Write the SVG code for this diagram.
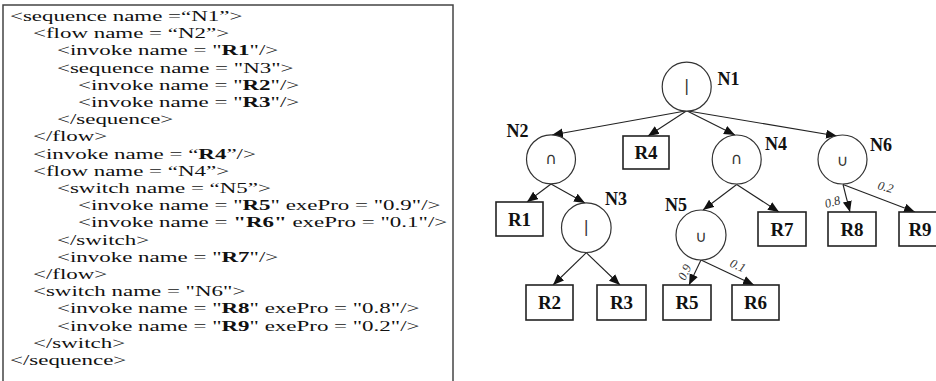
<svg xmlns="http://www.w3.org/2000/svg" width="936" height="381" viewBox="0 0 936 381">
<defs>
<style>
.code{font-family:"Liberation Serif","Times New Roman",serif;font-size:15px;fill:#111}
.b{font-weight:bold}
.node{fill:#fff;stroke:#333;stroke-width:1.2}
.box{fill:#fff;stroke:#222;stroke-width:1.6}
.bl{font-family:"Liberation Serif","Times New Roman",serif;font-weight:bold;font-size:19px;fill:#111;text-anchor:middle}
.nl{font-family:"Liberation Serif","Times New Roman",serif;font-weight:bold;font-size:18px;fill:#111}
.sym{font-family:"DejaVu Sans",sans-serif;font-size:16px;fill:#333;text-anchor:middle}
.pl{font-family:"Liberation Serif","Times New Roman",serif;font-style:italic;font-size:12.5px;fill:#333}
.edge{stroke:#222;stroke-width:1.1;fill:none;marker-end:url(#ah)}
</style>
<marker id="ah" markerUnits="userSpaceOnUse" markerWidth="12" markerHeight="10" refX="11" refY="4.5" orient="auto">
<path d="M0,0 L11,4.5 L0,9 Z" fill="#111"/>
</marker>
</defs>
<rect width="936" height="381" fill="#fff"/>

<g id="code-panel">
<rect x="3" y="5" width="450" height="390" fill="#fff" stroke="#444" stroke-width="1.5"/>
<g transform="scale(1.53 1)" class="code">
<text x="6.54" y="21">&lt;sequence name =“N1”&gt;</text>
<text x="21.57" y="38.2">&lt;flow name = “N2”&gt;</text>
<text x="37.25" y="55.4">&lt;invoke name = "<tspan class="b">R1</tspan>"/&gt;</text>
<text x="37.25" y="72.6">&lt;sequence name = "N3"&gt;</text>
<text x="50.98" y="89.8">&lt;invoke name = "<tspan class="b">R2</tspan>"/&gt;</text>
<text x="50.98" y="107">&lt;invoke name = "<tspan class="b">R3</tspan>"/&gt;</text>
<text x="37.25" y="124.2">&lt;/sequence&gt;</text>
<text x="21.57" y="141.4">&lt;/flow&gt;</text>
<text x="21.57" y="158.6">&lt;invoke name = “<tspan class="b">R4</tspan>”/&gt;</text>
<text x="21.57" y="175.8">&lt;flow name = “N4”&gt;</text>
<text x="37.25" y="193">&lt;switch name = “N5”&gt;</text>
<text x="50.98" y="210.2">&lt;invoke name = "<tspan class="b">R5</tspan>" exePro = "0.9"/&gt;</text>
<text x="50.98" y="227.4">&lt;invoke name = <tspan class="b">"R6"</tspan> exePro = "0.1"/&gt;</text>
<text x="37.25" y="244.6">&lt;/switch&gt;</text>
<text x="37.25" y="261.8">&lt;invoke name = "<tspan class="b">R7</tspan>"/&gt;</text>
<text x="21.57" y="279">&lt;/flow&gt;</text>
<text x="21.57" y="296.2">&lt;switch name = "N6"&gt;</text>
<text x="37.25" y="313.4">&lt;invoke name = "<tspan class="b">R8</tspan>" exePro = "0.8"/&gt;</text>
<text x="37.25" y="330.6">&lt;invoke name = "<tspan class="b">R9</tspan>" exePro = "0.2"/&gt;</text>
<text x="21.57" y="347.8">&lt;/switch&gt;</text>
<text x="6.54" y="365">&lt;/sequence&gt;</text>
</g>
</g>

<g id="connectors">
<line class="edge" x1="686.7" y1="110.7" x2="552" y2="135"/>
<line class="edge" x1="686.7" y1="110.7" x2="648" y2="136"/>
<line class="edge" x1="686.7" y1="110.7" x2="735" y2="135"/>
<line class="edge" x1="686.7" y1="110.7" x2="837" y2="136"/>
<line class="edge" x1="551" y1="184" x2="527" y2="202"/>
<line class="edge" x1="551" y1="184" x2="585" y2="203"/>
<line class="edge" x1="586.3" y1="252.7" x2="553" y2="285"/>
<line class="edge" x1="586.3" y1="252.7" x2="620" y2="285"/>
<line class="edge" x1="736.7" y1="184.5" x2="703" y2="210"/>
<line class="edge" x1="736.7" y1="184.5" x2="779" y2="212"/>
<line class="edge" x1="843" y1="184.5" x2="850" y2="212"/>
<line class="edge" x1="843" y1="184.5" x2="915" y2="212"/>
<line class="edge" x1="701" y1="260" x2="689" y2="285"/>
<line class="edge" x1="701" y1="260" x2="754" y2="285"/>
<text class="pl" transform="translate(826 208) rotate(-15)">0.8</text>
<text class="pl" transform="translate(877 189) rotate(15)">0.2</text>
<text class="pl" transform="translate(685 281) rotate(-65)">0.9</text>
<text class="pl" transform="translate(729 266) rotate(25)">0.1</text>
</g>

<g id="N1">
<circle class="node" cx="686.7" cy="86.7" r="24.5"/>
<text class="sym" x="686.7" y="91">|</text>
<text class="nl" x="717.5" y="85">N1</text>
</g>
<g id="N2">
<circle class="node" cx="551" cy="159.3" r="24.5"/>
<text class="sym" x="551" y="163.5">∩</text>
<text class="nl" x="506.5" y="136.5">N2</text>
</g>
<g id="R4">
<rect class="box" x="623" y="136" width="46" height="33"/>
<text class="bl" x="646" y="159">R4</text>
</g>
<g id="N4">
<circle class="node" cx="736.7" cy="159.5" r="24.5"/>
<text class="sym" x="736.7" y="164">∩</text>
<text class="nl" x="765" y="150">N4</text>
</g>
<g id="N6">
<circle class="node" cx="842.5" cy="159.5" r="24.5"/>
<text class="sym" x="842.5" y="166">∪</text>
<text class="nl" x="870" y="151">N6</text>
</g>
<g id="R1">
<rect class="box" x="496" y="202" width="47" height="34"/>
<text class="bl" x="519.5" y="225.5">R1</text>
</g>
<g id="N3">
<circle class="node" cx="586.3" cy="227.7" r="24.8"/>
<text class="sym" x="586.3" y="232">|</text>
<text class="nl" x="605" y="205">N3</text>
</g>
<g id="N5">
<circle class="node" cx="701" cy="235" r="25"/>
<text class="sym" x="701" y="242">∪</text>
<text class="nl" x="665" y="210.5">N5</text>
</g>
<g id="R7">
<rect class="box" x="758" y="212" width="48" height="34"/>
<text class="bl" x="782" y="235.5">R7</text>
</g>
<g id="R8">
<rect class="box" x="828" y="212" width="48" height="34"/>
<text class="bl" x="852" y="235.5">R8</text>
</g>
<g id="R9">
<rect class="box" x="899" y="212" width="48" height="34"/>
<text class="bl" x="920" y="235.5">R9</text>
</g>
<g id="R2">
<rect class="box" x="526" y="285" width="47" height="35"/>
<text class="bl" x="549.5" y="309">R2</text>
</g>
<g id="R3">
<rect class="box" x="597" y="285" width="49" height="35"/>
<text class="bl" x="621.5" y="309">R3</text>
</g>
<g id="R5">
<rect class="box" x="663" y="285" width="48" height="35"/>
<text class="bl" x="687" y="309">R5</text>
</g>
<g id="R6">
<rect class="box" x="732" y="285" width="47" height="35"/>
<text class="bl" x="755.5" y="309">R6</text>
</g>
</svg>
